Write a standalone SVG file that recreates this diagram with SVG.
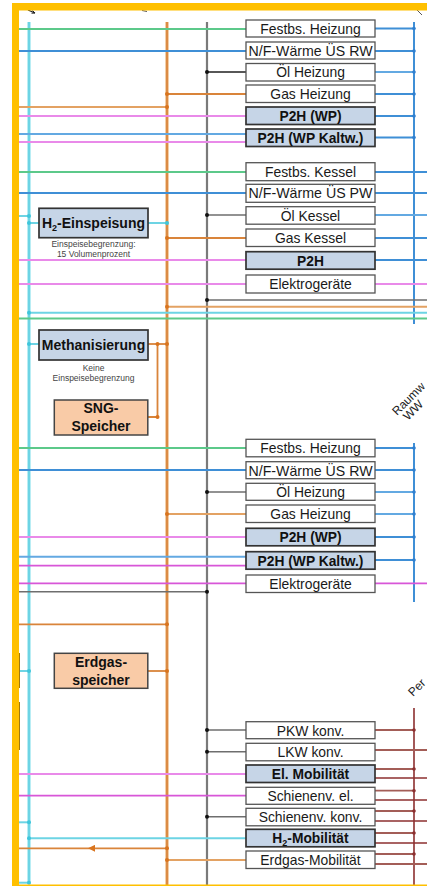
<svg xmlns="http://www.w3.org/2000/svg" width="427" height="886" viewBox="0 0 427 886">
<defs>
<style>
.bx{fill:#fff;stroke:#555;stroke-width:1.3}
.bb{fill:#c6d5e7;stroke:#333;stroke-width:1.7}
.bo{fill:#f9cba7;stroke:#444;stroke-width:1.5}
.t{font-family:"Liberation Sans",Arial,sans-serif;font-size:13.9px;fill:#1a1a1a;text-anchor:middle}
.tb{font-family:"Liberation Sans",Arial,sans-serif;font-size:13.8px;font-weight:bold;fill:#111;text-anchor:middle}
.tl{font-family:"Liberation Sans",Arial,sans-serif;font-size:14px;font-weight:bold;fill:#111;text-anchor:middle}
.ts{font-family:"Liberation Sans",Arial,sans-serif;font-size:8.5px;fill:#444;text-anchor:middle}
.tr{font-family:"Liberation Sans",Arial,sans-serif;font-size:12px;fill:#222}
.g{stroke:#5cc98a;stroke-width:2;fill:none}
.b{stroke:#3f8fd6;stroke-width:2;fill:none}
.lb{stroke:#63a9e2;stroke-width:2;fill:none}
.p{stroke:#e98ae9;stroke-width:2;fill:none}
.m{stroke:#d856d8;stroke-width:1.8;fill:none}
.o{stroke:#d9843a;stroke-width:1.8;fill:none}
.lo{stroke:#e3a263;stroke-width:2;fill:none}
.c{stroke:#6dd4e4;stroke-width:2;fill:none}
.k{stroke:#1f1f1f;stroke-width:1.5;fill:none}
.kg{stroke:#6e6e6e;stroke-width:1.6;fill:none}
.v{stroke:#7a7a7a;stroke-width:2.2;fill:none}
.r{stroke:#8c2f2f;stroke-width:1.6;fill:none}
.lr{stroke:#a35d57;stroke-width:1.8;fill:none}
.dk{fill:#111}
.do{fill:#d9741e}
.dc{fill:#3fc6db}
.db{fill:#2f7fd0}
.dr{fill:#8c2f2f}
</style>
<marker id="arr" viewBox="0 0 10 10" refX="10" refY="5" markerWidth="7" markerHeight="7" markerUnits="userSpaceOnUse" orient="auto">
<path d="M0,0 L10,5 L0,10 z" fill="#d9741e"/>
</marker>
</defs>
<rect width="427" height="886" fill="#fff"/>

<g id="connectors">
<!-- verticals -->
<line x1="29" y1="22" x2="29" y2="884" stroke="#b9edf4" stroke-width="4"/>
<line x1="29" y1="22" x2="29" y2="884" class="c" stroke-width="1.4"/>
<line x1="167" y1="22" x2="167" y2="886" stroke="#f3cfa8" stroke-width="4"/>
<line x1="167" y1="22" x2="167" y2="886" class="o" stroke-width="1.4"/>
<line x1="207" y1="22" x2="207" y2="886" class="v"/>
<line x1="414" y1="22" x2="414" y2="324" class="b" stroke-width="1.6"/>
<line x1="414" y1="443" x2="414" y2="602" class="b" stroke-width="1.6"/>
<line x1="414" y1="708" x2="414" y2="886" class="r"/>

<!-- section 1 left -->
<line x1="19" y1="29" x2="246" y2="29" class="g"/>
<line x1="19" y1="51" x2="246" y2="51" class="b"/>
<line x1="207" y1="72" x2="246" y2="72" class="k"/>
<line x1="167" y1="94" x2="246" y2="94" class="o"/>
<line x1="19" y1="107" x2="167" y2="107" class="lo"/>
<line x1="19" y1="116" x2="246" y2="116" class="p"/>
<line x1="19" y1="134" x2="246" y2="134" class="lb"/>
<line x1="19" y1="142" x2="246" y2="142" class="p" stroke-width="1.6"/>
<!-- section 1 right -->
<line x1="375" y1="28.5" x2="414" y2="28.5" class="b" stroke-width="1.6"/>
<line x1="375" y1="51" x2="414" y2="51" class="b" stroke-width="1.6"/>
<line x1="375" y1="72" x2="414" y2="72" class="lb" stroke-width="1.6"/>
<line x1="375" y1="94" x2="414" y2="94" class="b" stroke-width="1.6"/>
<line x1="375" y1="116" x2="414" y2="116" class="b" stroke-width="1.6"/>
<line x1="375" y1="137.5" x2="414" y2="137.5" class="b" stroke-width="1.6"/>

<!-- section 2 left -->
<line x1="19" y1="172" x2="246" y2="172" class="g"/>
<line x1="19" y1="193" x2="246" y2="193" class="b"/>
<line x1="207" y1="215" x2="246" y2="215" class="kg"/>
<line x1="167" y1="238" x2="246" y2="238" class="o"/>
<line x1="19" y1="260" x2="246" y2="260" class="p" stroke-width="1.6"/>
<line x1="19" y1="284" x2="246" y2="284" class="p"/>
<line x1="19" y1="216" x2="29" y2="216" class="c"/>
<line x1="29" y1="223" x2="39" y2="223" class="c"/>
<line x1="148" y1="223" x2="167" y2="223" class="c"/>
<!-- section 2 right -->
<line x1="375" y1="172" x2="427" y2="172" class="b" stroke-width="1.6"/>
<line x1="375" y1="193" x2="427" y2="193" class="b" stroke-width="1.6"/>
<line x1="375" y1="215" x2="427" y2="215" class="lb" stroke-width="1.6"/>
<line x1="375" y1="238" x2="427" y2="238" class="b" stroke-width="1.6"/>
<line x1="375" y1="260" x2="427" y2="260" class="b" stroke-width="1.6"/>
<line x1="375" y1="284" x2="427" y2="284" class="p"/>

<!-- bus lines -->
<line x1="207" y1="300" x2="427" y2="300" class="kg"/>
<line x1="167" y1="306.7" x2="427" y2="306.7" class="lo"/>
<line x1="29" y1="312.7" x2="427" y2="312.7" class="c"/>
<line x1="19" y1="318.5" x2="427" y2="318.5" class="g" stroke="#86dcaa"/>

<!-- methanisierung / SNG -->
<line x1="29" y1="344" x2="39" y2="344" class="c"/>
<line x1="148" y1="344" x2="167" y2="344" class="o"/>
<polyline points="157.5,344 157.5,417 148,417" class="o"/>

<!-- section 3 left -->
<line x1="19" y1="448" x2="246" y2="448" class="g"/>
<line x1="19" y1="470" x2="246" y2="470" class="b"/>
<line x1="207" y1="492" x2="246" y2="492" class="kg"/>
<line x1="167" y1="514" x2="246" y2="514" class="lo"/>
<line x1="19" y1="537" x2="246" y2="537" class="p"/>
<line x1="19" y1="556.7" x2="246" y2="556.7" class="lb"/>
<line x1="19" y1="565.7" x2="246" y2="565.7" class="m"/>
<line x1="19" y1="583.3" x2="246" y2="583.3" class="m" stroke-width="1.5"/>
<line x1="19" y1="591.7" x2="207" y2="591.7" class="kg"/>
<!-- section 3 right -->
<line x1="375" y1="448" x2="414" y2="448" class="b" stroke-width="1.6"/>
<line x1="375" y1="470" x2="414" y2="470" class="b" stroke-width="1.6"/>
<line x1="375" y1="492" x2="414" y2="492" class="lb" stroke-width="1.6"/>
<line x1="375" y1="514" x2="414" y2="514" class="lb" stroke-width="1.6"/>
<line x1="375" y1="537" x2="414" y2="537" class="b" stroke-width="1.6"/>
<line x1="375" y1="560" x2="414" y2="560" class="b" stroke-width="1.6"/>
<line x1="375" y1="583.3" x2="427" y2="583.3" class="m" stroke-width="1.5"/>

<!-- section 4 left -->
<line x1="19" y1="624.3" x2="167" y2="624.3" class="o" stroke-width="1.5"/>
<line x1="148" y1="671" x2="167" y2="671" class="o" stroke-width="1.5"/>
<line x1="19" y1="671" x2="29" y2="671" class="c"/>
<line x1="207" y1="730" x2="246" y2="730" class="kg"/>
<line x1="207" y1="751.7" x2="246" y2="751.7" class="kg"/>
<line x1="19" y1="774" x2="246" y2="774" class="p"/>
<line x1="19" y1="795.7" x2="246" y2="795.7" class="m" stroke="#e07ee0"/>
<line x1="207" y1="816.7" x2="246" y2="816.7" class="kg"/>
<line x1="19" y1="822.3" x2="29" y2="822.3" class="c"/>
<line x1="29" y1="838.3" x2="246" y2="838.3" class="c"/>
<line x1="167" y1="848.3" x2="88" y2="848.3" class="o" marker-end="url(#arr)"/>
<line x1="88" y1="848.3" x2="19" y2="848.3" class="o" stroke-width="1.4"/>
<line x1="167" y1="860" x2="246" y2="860" class="lo"/>
<line x1="19" y1="882.7" x2="29" y2="882.7" class="c"/>
<!-- section 4 right -->
<line x1="375" y1="730" x2="414" y2="730" class="lr"/>
<line x1="375" y1="750" x2="427" y2="750" class="lr"/>
<line x1="375" y1="769" x2="414" y2="769" class="lr"/>
<line x1="375" y1="778" x2="427" y2="778" class="r"/>
<line x1="375" y1="790.7" x2="414" y2="790.7" class="lr"/>
<line x1="375" y1="800" x2="427" y2="800" class="r"/>
<line x1="375" y1="811" x2="414" y2="811" class="lr"/>
<line x1="375" y1="821" x2="427" y2="821" class="r"/>
<line x1="375" y1="833" x2="414" y2="833" class="lr"/>
<line x1="375" y1="843" x2="427" y2="843" class="r"/>
<line x1="375" y1="854" x2="414" y2="854" class="lr"/>
<line x1="375" y1="864" x2="427" y2="864" class="lr"/>

<!-- junction dots -->
<g class="dk">
<circle cx="207" cy="72" r="2"/><circle cx="207" cy="215" r="2"/><circle cx="207" cy="300" r="2"/>
<circle cx="207" cy="492" r="2"/><circle cx="207" cy="591.7" r="2"/><circle cx="207" cy="730" r="2"/>
<circle cx="207" cy="751.7" r="2"/><circle cx="207" cy="816.7" r="2"/>
</g>
<g class="do">
<circle cx="167" cy="94" r="2"/><circle cx="167" cy="107" r="2"/><circle cx="167" cy="238" r="2"/>
<circle cx="167" cy="306.7" r="2"/><circle cx="167" cy="344" r="2"/><circle cx="157.5" cy="344" r="2"/>
<circle cx="157.5" cy="417" r="2"/><circle cx="167" cy="514" r="2"/><circle cx="167" cy="624.3" r="2"/>
<circle cx="167" cy="671" r="2"/><circle cx="167" cy="848.3" r="2"/><circle cx="167" cy="860" r="2"/>
</g>
<g class="dc">
<circle cx="29" cy="216" r="2"/><circle cx="29" cy="223" r="2"/><circle cx="167" cy="223" r="2"/>
<circle cx="29" cy="312.7" r="2"/><circle cx="29" cy="344" r="2"/><circle cx="29" cy="671" r="2"/>
<circle cx="29" cy="822.3" r="2"/><circle cx="29" cy="838.3" r="2"/><circle cx="29" cy="882.7" r="2"/>
</g>
<g class="db">
<circle cx="414" cy="28.5" r="1.8"/><circle cx="414" cy="51" r="1.8"/><circle cx="414" cy="72" r="1.8"/>
<circle cx="414" cy="94" r="1.8"/><circle cx="414" cy="116" r="1.8"/><circle cx="414" cy="137.5" r="1.8"/>
<circle cx="414" cy="448" r="1.8"/><circle cx="414" cy="470" r="1.8"/><circle cx="414" cy="492" r="1.8"/>
<circle cx="414" cy="514" r="1.8"/><circle cx="414" cy="537" r="1.8"/><circle cx="414" cy="560" r="1.8"/>
</g>
<g class="dr">
<circle cx="414" cy="730" r="1.8"/><circle cx="414" cy="769" r="1.8"/><circle cx="414" cy="790.7" r="1.8"/>
<circle cx="414" cy="811" r="1.8"/><circle cx="414" cy="833" r="1.8"/><circle cx="414" cy="854" r="1.8"/>
</g>
<!-- cut-off arrow fragments at top -->
<path d="M28,10 L35,13" stroke="#222" stroke-width="1.2"/>
<path d="M32.5,10.5 L35,13 L31.5,13.2" stroke="#222" stroke-width="1" fill="none"/>
<path d="M142,10.5 L147,11.5" stroke="#555" stroke-width="1"/>
<path d="M417,10 L422,15" stroke="#555" stroke-width="1"/>
</g>

<!-- frame -->
<g id="frame">
<rect x="12" y="3" width="415" height="7.5" fill="#ffc000"/>
<rect x="12" y="3" width="7" height="883" fill="#ffc000"/>
<rect x="19" y="884.5" width="408" height="1.5" fill="#ffc000"/>
<line x1="19.5" y1="653" x2="19.5" y2="688" stroke="#a07a10" stroke-width="1"/>
<line x1="19.5" y1="702" x2="19.5" y2="750" stroke="#a07a10" stroke-width="1"/>
</g>

<!-- section 1 nodes -->
<g id="n-festbs-heizung-1"><rect class="bx" x="246" y="20" width="129" height="17"/><text class="t" x="310.5" y="33.5">Festbs. Heizung</text></g>
<g id="n-nf-waerme-rw-1"><rect class="bx" x="246" y="42" width="129" height="17"/><text class="t" x="310.5" y="55.5" textLength="124" lengthAdjust="spacingAndGlyphs">N/F-Wärme ÜS RW</text></g>
<g id="n-oel-heizung-1"><rect class="bx" x="246" y="63.5" width="129" height="17.5"/><text class="t" x="310.5" y="77.2">Öl Heizung</text></g>
<g id="n-gas-heizung-1"><rect class="bx" x="246" y="85" width="129" height="17.5"/><text class="t" x="310.5" y="98.7">Gas Heizung</text></g>
<g id="n-p2h-wp-1"><rect class="bb" x="246" y="107" width="129" height="17.5"/><text class="tb" x="310.5" y="120.7">P2H (WP)</text></g>
<g id="n-p2h-kaltw-1"><rect class="bb" x="246" y="129" width="129" height="17.5"/><text class="tb" x="310.5" y="142.7">P2H (WP Kaltw.)</text></g>

<!-- section 2 nodes -->
<g id="n-festbs-kessel"><rect class="bx" x="246" y="162.7" width="129" height="18"/><text class="t" x="310.5" y="176.6">Festbs. Kessel</text></g>
<g id="n-nf-waerme-pw"><rect class="bx" x="246" y="184.3" width="129" height="18"/><text class="t" x="310.5" y="198.2" textLength="124" lengthAdjust="spacingAndGlyphs">N/F-Wärme ÜS PW</text></g>
<g id="n-oel-kessel"><rect class="bx" x="246" y="206.7" width="129" height="17.5"/><text class="t" x="310.5" y="220.6">Öl Kessel</text></g>
<g id="n-gas-kessel"><rect class="bx" x="246" y="229" width="129" height="17.5"/><text class="t" x="310.5" y="242.9">Gas Kessel</text></g>
<g id="n-p2h-2"><rect class="bb" x="246" y="251.7" width="129" height="17.5"/><text class="tb" x="310.5" y="265.6">P2H</text></g>
<g id="n-elektrogeraete-2"><rect class="bx" x="246" y="275" width="129" height="18"/><text class="t" x="310.5" y="288.9">Elektrogeräte</text></g>

<!-- left nodes -->
<g id="n-h2-einspeisung">
<rect class="bb" x="39" y="208.3" width="109" height="29.4"/>
<text class="tl" x="93.5" y="228" font-size="13.3">H<tspan font-size="9" dy="3">2</tspan><tspan dy="-3">-Einspeisung</tspan></text>
<text class="ts" x="93.5" y="247">Einspeisebegrenzung:</text>
<text class="ts" x="93.5" y="257">15 Volumenprozent</text>
</g>
<g id="n-methanisierung">
<rect class="bb" x="39" y="330" width="109" height="30"/>
<text class="tl" x="93.5" y="350">Methanisierung</text>
<text class="ts" x="93.5" y="371">Keine</text>
<text class="ts" x="93.5" y="380.5">Einspeisebegrenzung</text>
</g>
<g id="n-sng-speicher">
<rect class="bo" x="54.3" y="400" width="93.5" height="35"/>
<text class="tl" x="101" y="412.5">SNG-</text>
<text class="tl" x="101" y="431">Speicher</text>
</g>
<g id="n-erdgasspeicher">
<rect class="bo" x="54.3" y="653.3" width="93.5" height="35"/>
<text class="tl" x="101" y="666.5">Erdgas-</text>
<text class="tl" x="101" y="684.5">speicher</text>
</g>

<!-- rotated labels -->
<g id="labels">
<text class="tr" transform="translate(397,416) rotate(-45)">Raumw</text>
<text class="tr" transform="translate(408,421) rotate(-45)" font-size="11.5">WW</text>
<text class="tr" transform="translate(413,697) rotate(-45)">Per</text>
</g>

<!-- section 3 nodes -->
<g id="n-festbs-heizung-3"><rect class="bx" x="246" y="439.3" width="129" height="17.5"/><text class="t" x="310.5" y="453.2">Festbs. Heizung</text></g>
<g id="n-nf-waerme-rw-3"><rect class="bx" x="246" y="461.7" width="129" height="17"/><text class="t" x="310.5" y="475.5" textLength="124" lengthAdjust="spacingAndGlyphs">N/F-Wärme ÜS RW</text></g>
<g id="n-oel-heizung-3"><rect class="bx" x="246" y="483.3" width="129" height="17"/><text class="t" x="310.5" y="497.1">Öl Heizung</text></g>
<g id="n-gas-heizung-3"><rect class="bx" x="246" y="505" width="129" height="17.5"/><text class="t" x="310.5" y="518.9">Gas Heizung</text></g>
<g id="n-p2h-wp-3"><rect class="bb" x="246" y="528.3" width="129" height="17.5"/><text class="tb" x="310.5" y="542.2">P2H (WP)</text></g>
<g id="n-p2h-kaltw-3"><rect class="bb" x="246" y="551.7" width="129" height="17.5"/><text class="tb" x="310.5" y="565.6">P2H (WP Kaltw.)</text></g>
<g id="n-elektrogeraete-3"><rect class="bx" x="246" y="575" width="129" height="17.5"/><text class="t" x="310.5" y="588.9">Elektrogeräte</text></g>

<!-- section 4 nodes -->
<g id="n-pkw-konv"><rect class="bx" x="246" y="721.7" width="129" height="17"/><text class="t" x="310.5" y="735.5">PKW konv.</text></g>
<g id="n-lkw-konv"><rect class="bx" x="246" y="743.3" width="129" height="17.5"/><text class="t" x="310.5" y="757.2">LKW konv.</text></g>
<g id="n-el-mobilitaet"><rect class="bb" x="246" y="765" width="129" height="17.5"/><text class="tb" x="310.5" y="778.9">El. Mobilität</text></g>
<g id="n-schienenv-el"><rect class="bx" x="246" y="787.3" width="129" height="17"/><text class="t" x="310.5" y="801.1">Schienenv. el.</text></g>
<g id="n-schienenv-konv"><rect class="bx" x="246" y="808.3" width="129" height="17.5"/><text class="t" x="310.5" y="822.2">Schienenv. konv.</text></g>
<g id="n-h2-mobilitaet"><rect class="bb" x="246" y="829.3" width="129" height="17.5"/><text class="tb" x="310.5" y="843.2">H<tspan font-size="9" dy="2.5">2</tspan><tspan dy="-2.5">-Mobilität</tspan></text></g>
<g id="n-erdgas-mobilitaet"><rect class="bx" x="246" y="851" width="129" height="17.5"/><text class="t" x="310.5" y="864.9">Erdgas-Mobilität</text></g>
</svg>
